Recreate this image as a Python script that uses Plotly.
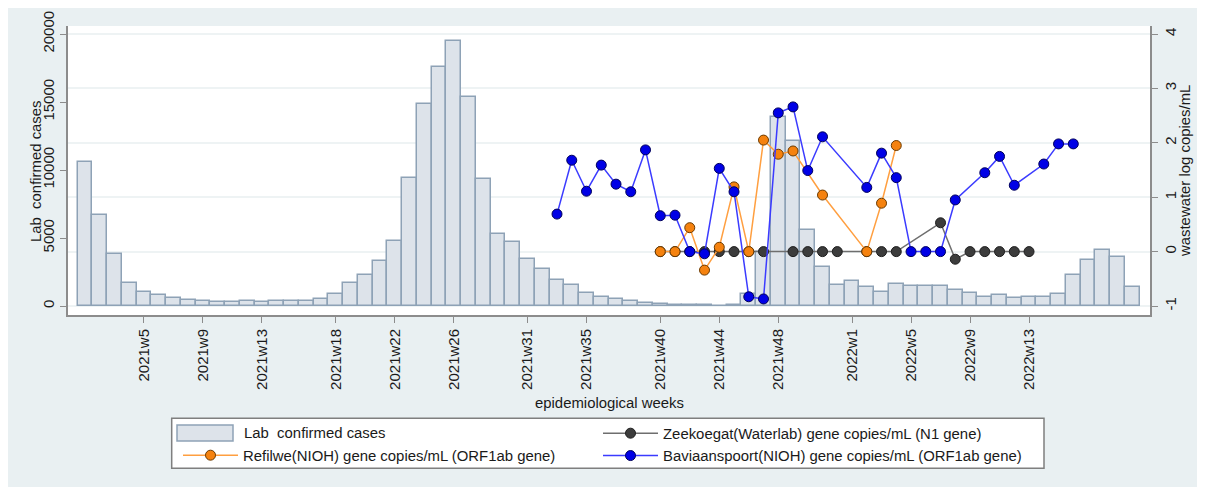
import plotly.graph_objects as go

# ---------------- data ----------------
weeks = [f"2021w{i}" for i in range(1, 53)] + [f"2022w{i}" for i in range(1, 21)]

cases = [10600, 6700, 3800, 1680, 1000, 790, 570, 470, 370, 270,
         300, 370, 270, 370, 370, 370, 490, 900, 1690, 2280,
         3290, 4800, 9390, 14880, 17600, 19490, 15370, 9310, 5270, 4680,
         3430, 2700, 1890, 1570, 980, 690, 490, 370, 200, 120,
         70, 50, 50, 30, 70, 880, 3950, 13870, 12130, 5570,
         2870, 1540, 1860, 1370, 1050, 1590, 1470, 1470, 1470, 1200,
         980, 690, 790, 570, 690, 690, 900, 2280, 3410, 4090,
         3580, 1420]

zeekoegat_start = "2021w40"
zeekoegat = [0, 0, 0, 0, 0, 0, 0, 0, None, 0, 0, 0, 0, None, 0, 0, 0,
             None, None, 0.53, -0.14, 0, 0, 0, 0, 0]

refilwe_start = "2021w40"
refilwe = [0, 0, 0.44, -0.34, 0.08, 1.19, 0, 2.05, 1.79, 1.85, None, 1.04,
           None, None, 0, 0.89, 1.95]

baviaanspoort_start = "2021w33"
baviaanspoort = [0.69, 1.68, 1.11, 1.59, 1.24, 1.10, 1.87, 0.66, 0.67, 0.0,
                 -0.04, 1.53, 1.10, -0.83, -0.87, 2.55, 2.66, 1.49, 2.11, None,
                 None, 1.18, 1.81, 1.36, 0, 0, 0, 0.95, None, 1.45,
                 1.75, 1.22, None, 1.61, 1.98, 1.98]

tick_labels = ["2021w5", "2021w9", "2021w13", "2021w18", "2021w22", "2021w26",
               "2021w31", "2021w35", "2021w40", "2021w44", "2021w48",
               "2022w1", "2022w5", "2022w9", "2022w13"]
left_ticks = [0, 5000, 10000, 15000, 20000]
right_ticks = [-1, 0, 1, 2, 3, 4]

BAR_NAME = "Lab \u00a0confirmed cases"


def weeks_from(start, values):
    i = weeks.index(start)
    return weeks[i:i + len(values)]


# ---------------- figure ----------------
FONT = "Arial, Liberation Sans, Helvetica, sans-serif"
W, H = 1205, 487
OFF = 8  # page body margin
L, R, T, B = 60, 63, 18, 180
PW, PH = W - L - R, H - T - B


def px(xs):
    """screen x -> paper x"""
    return (xs - OFF - L) / PW


def py(ys):
    """screen y -> paper y"""
    return (H - B - (ys - OFF)) / PH


BAR_FILL, BAR_EDGE = "#dde3ea", "#8ea2b6"

fig = go.Figure()

fig.add_trace(go.Bar(
    x=weeks, y=cases, name=BAR_NAME, showlegend=False,
    marker=dict(color=BAR_FILL, line=dict(color=BAR_EDGE, width=1.5)),
    width=1.0, yaxis="y",
))

fig.add_trace(go.Scatter(
    x=weeks_from(zeekoegat_start, zeekoegat), y=zeekoegat,
    name="Zeekoegat(Waterlab) gene copies/mL (N1 gene)",
    mode="lines+markers", connectgaps=True, yaxis="y2", legend="legend2",
    line=dict(color="#6e6e6e", width=1.5),
    marker=dict(size=10, color="#3c3c3c", line=dict(color="#1e1e1e", width=1)),
))

fig.add_trace(go.Scatter(
    x=weeks_from(refilwe_start, refilwe), y=refilwe,
    name="Refilwe(NIOH) gene copies/mL (ORF1ab gene)",
    mode="lines+markers", connectgaps=True, yaxis="y2", legend="legend",
    line=dict(color="#ff9f40", width=1.5),
    marker=dict(size=10, color="#f5820f", line=dict(color="#6b3a00", width=1)),
))

fig.add_trace(go.Scatter(
    x=weeks_from(baviaanspoort_start, baviaanspoort), y=baviaanspoort,
    name="Baviaanspoort(NIOH) gene copies/mL (ORF1ab gene)",
    mode="lines+markers", connectgaps=True, yaxis="y2", legend="legend2",
    line=dict(color="#3b3bff", width=1.5),
    marker=dict(size=10, color="#0000e6", line=dict(color="#00005a", width=1)),
))

axis_line = "#8c8c8c"
txt = "#1a1a1a"
tickfont = dict(family=FONT, size=15, color=txt)
legfont = dict(family=FONT, size=14.9, color=txt)

legend_common = dict(
    orientation="v", xanchor="left", yanchor="top",
    bgcolor="rgba(0,0,0,0)", borderwidth=0, itemwidth=55,
    font=legfont, traceorder="normal", tracegroupgap=0,
)

fig.update_layout(
    width=W, height=H,
    margin=dict(l=L, r=R, t=T, b=B, autoexpand=False),
    paper_bgcolor="#e9f0f2",
    plot_bgcolor="#ffffff",
    bargap=0,
    font=dict(family=FONT, size=15, color=txt),
    xaxis=dict(
        type="category", range=[-1.15, 72.2],
        tickmode="array", tickvals=tick_labels, ticktext=tick_labels,
        tickangle=-90, tickfont=tickfont,
        ticks="outside", ticklen=6, tickcolor=axis_line,
        showline=True, linecolor=axis_line, linewidth=2,
        showgrid=False, zeroline=False, automargin=False,
    ),
    yaxis=dict(
        range=[-662, 20588],
        tickmode="array", tickvals=left_ticks, ticktext=[str(v) for v in left_ticks],
        tickangle=-90, tickfont=tickfont,
        ticks="outside", ticklen=6, tickcolor=axis_line,
        showline=True, linecolor=axis_line, linewidth=2,
        showgrid=False, zeroline=False, automargin=False,
    ),
    yaxis2=dict(
        range=[-1.165, 4.147], overlaying="y", side="right",
        tickmode="array", tickvals=right_ticks, ticktext=[str(v) for v in right_ticks],
        tickangle=-90, tickfont=tickfont,
        ticks="outside", ticklen=6, tickcolor=axis_line,
        showline=True, linecolor=axis_line, linewidth=2,
        showgrid=True, gridcolor="#eef3f4", gridwidth=1.5, zeroline=False,
        automargin=False,
    ),
    showlegend=True,
    legend=dict(x=px(178), y=py(439), **legend_common),
    legend2=dict(x=px(598), y=py(417), **legend_common),
    annotations=[
        dict(text=BAR_NAME, textangle=-90, xref="paper", yref="paper",
             x=px(36), y=py(171), xanchor="center", yanchor="middle", showarrow=False,
             font=dict(family=FONT, size=14.9, color=txt)),
        dict(text="wastewater log copies/mL", textangle=-90, xref="paper", yref="paper",
             x=px(1185), y=py(171), xanchor="center", yanchor="middle", showarrow=False,
             font=dict(family=FONT, size=14.9, color=txt)),
        dict(text="epidemiological weeks", xref="paper", yref="paper",
             x=px(609), y=py(403), xanchor="center", yanchor="middle", showarrow=False,
             font=dict(family=FONT, size=14.9, color=txt)),
        # legend entry for the bars (wide box key, as in the original)
        dict(text=BAR_NAME, xref="paper", yref="paper",
             x=px(242), y=py(433), xanchor="left", yanchor="middle", showarrow=False,
             font=legfont),
    ],
    shapes=[
        # legend box
        dict(type="rect", xref="paper", yref="paper", x0=px(171.7), x1=px(1044), y0=py(468.3), y1=py(418.3),
             fillcolor="#ffffff", line=dict(color="#7f7f7f", width=1.5), layer="below"),
        # bar key
        dict(type="rect", xref="paper", yref="paper", x0=px(177), x1=px(233), y0=py(441), y1=py(425),
             fillcolor=BAR_FILL, line=dict(color=BAR_EDGE, width=1.5), layer="below"),
    ],
)

fig.write_html("out.html")
